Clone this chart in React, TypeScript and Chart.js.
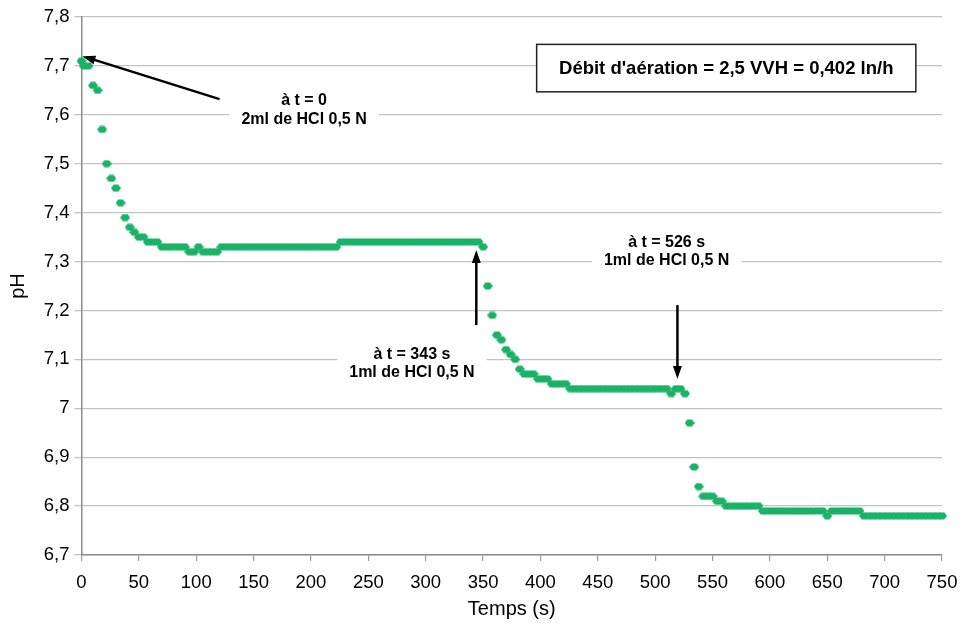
import React, { useEffect, useRef } from 'react';
import { Chart, registerables } from 'chart.js';

Chart.register(...registerables);

// Time (s) of each pH reading
const timeSeconds = [
  0,
  2, 6, 10, 14, 18, 22, 26, 30, 34, 38, 42, 46, 50, 54, 58, 62, 66, 70, 74, 78,
  82, 86, 90, 94, 98, 102, 106, 110, 114, 118, 122, 126, 130, 134, 138, 142, 146, 150, 154, 158,
  162, 166, 170, 174, 178, 182, 186, 190, 194, 198, 202, 206, 210, 214, 218, 222, 226, 230, 234, 238,
  242, 246, 250, 254, 258, 262, 266, 270, 274, 278, 282, 286, 290, 294, 298, 302, 306, 310, 314, 318,
  322, 326, 330, 334, 338, 342, 346, 350, 354, 358, 362, 366, 370, 374, 378, 382, 386, 390, 394, 398,
  402, 406, 410, 414, 418, 422, 426, 430, 434, 438, 442, 446, 450, 454, 458, 462, 466, 470, 474, 478,
  482, 486, 490, 494, 498, 502, 506, 510, 514, 518, 522, 526, 530, 534, 538, 542, 546, 550, 554, 558,
  562, 566, 570, 574, 578, 582, 586, 590, 594, 598, 602, 606, 610, 614, 618, 622, 626, 630, 634, 638,
  642, 646, 650, 654, 658, 662, 666, 670, 674, 678, 682, 686, 690, 694, 698, 702, 706, 710, 714, 718,
  722, 726, 730, 734, 738, 742, 746, 750,
];

// Measured pH
const phValues = [
  7.71,
  7.70, 7.70, 7.66, 7.65, 7.57, 7.50, 7.47, 7.45, 7.42, 7.39, 7.37, 7.36, 7.35, 7.35, 7.34, 7.34, 7.34, 7.33, 7.33, 7.33,
  7.33, 7.33, 7.33, 7.32, 7.32, 7.33, 7.32, 7.32, 7.32, 7.32, 7.33, 7.33, 7.33, 7.33, 7.33, 7.33, 7.33, 7.33, 7.33, 7.33,
  7.33, 7.33, 7.33, 7.33, 7.33, 7.33, 7.33, 7.33, 7.33, 7.33, 7.33, 7.33, 7.33, 7.33, 7.33, 7.33, 7.34, 7.34, 7.34, 7.34,
  7.34, 7.34, 7.34, 7.34, 7.34, 7.34, 7.34, 7.34, 7.34, 7.34, 7.34, 7.34, 7.34, 7.34, 7.34, 7.34, 7.34, 7.34, 7.34, 7.34,
  7.34, 7.34, 7.34, 7.34, 7.34, 7.34, 7.34, 7.33, 7.25, 7.19, 7.15, 7.14, 7.12, 7.11, 7.10, 7.08, 7.07, 7.07, 7.07, 7.06,
  7.06, 7.06, 7.05, 7.05, 7.05, 7.05, 7.04, 7.04, 7.04, 7.04, 7.04, 7.04, 7.04, 7.04, 7.04, 7.04, 7.04, 7.04, 7.04, 7.04,
  7.04, 7.04, 7.04, 7.04, 7.04, 7.04, 7.04, 7.04, 7.03, 7.04, 7.04, 7.03, 6.97, 6.88, 6.84, 6.82, 6.82, 6.82, 6.81, 6.81,
  6.80, 6.80, 6.80, 6.80, 6.80, 6.80, 6.80, 6.80, 6.79, 6.79, 6.79, 6.79, 6.79, 6.79, 6.79, 6.79, 6.79, 6.79, 6.79, 6.79,
  6.79, 6.79, 6.78, 6.79, 6.79, 6.79, 6.79, 6.79, 6.79, 6.79, 6.78, 6.78, 6.78, 6.78, 6.78, 6.78, 6.78, 6.78, 6.78, 6.78,
  6.78, 6.78, 6.78, 6.78, 6.78, 6.78, 6.78, 6.78,
];

// Axis ranges
const X_MIN = 0;
const X_MAX = 750;
const X_STEP = 50;
const Y_MIN = 6.7;
const Y_MAX = 7.8;
const Y_STEP = 0.1;

const X_TITLE = 'Temps (s)';
const Y_TITLE = 'pH';

// Annotation texts (anchored in data coordinates)
const annotationLabels = [
  { lines: ['à t = 0', '2ml de HCl 0,5 N'], t: 194, ph: [7.629, 7.591] },
  { lines: ['à t = 343 s', '1ml de HCl 0,5 N'], t: 288, ph: [7.11, 7.073] },
  { lines: ['à t = 526 s', '1ml de HCl 0,5 N'], t: 510, ph: [7.339, 7.302] },
];

const annotationArrows = [
  { from: [120.3, 7.632], to: [0.8, 7.72] },
  { from: [344.1, 7.17], to: [344.1, 7.3235] },
  { from: [519.4, 7.211], to: [519.4, 7.06] },
];

const infoBox = {
  text: "Débit d'aération = 2,5 VVH = 0,402 ln/h",
  left: 396.7,
  right: 727.2,
  top: 7.744,
  bottom: 7.647,
};

const GREEN = '#19b368';
const FONT_FAMILY = '"Liberation Sans", Arial, Helvetica, sans-serif';

function makeMarker(): HTMLCanvasElement {
  const c = document.createElement('canvas');
  c.width = 10;
  c.height = 8;
  const m = c.getContext('2d')!;
  m.fillStyle = GREEN;
  m.beginPath();
  m.moveTo(0, 4);
  m.lineTo(2.6, 0.6);
  m.lineTo(7.4, 0.6);
  m.lineTo(10, 4);
  m.lineTo(7.4, 7.4);
  m.lineTo(2.6, 7.4);
  m.closePath();
  m.fill();
  return c;
}

function drawArrow(ctx: CanvasRenderingContext2D, x1: number, y1: number, x2: number, y2: number) {
  const ang = Math.atan2(y2 - y1, x2 - x1);
  const headLen = 13;
  const headHalf = 4.5;
  const bx = x2 - headLen * Math.cos(ang);
  const by = y2 - headLen * Math.sin(ang);
  ctx.strokeStyle = '#000';
  ctx.fillStyle = '#000';
  ctx.lineWidth = 2.5;
  ctx.beginPath();
  ctx.moveTo(x1, y1);
  ctx.lineTo(bx + 2 * Math.cos(ang), by + 2 * Math.sin(ang));
  ctx.stroke();
  ctx.beginPath();
  ctx.moveTo(x2, y2);
  ctx.lineTo(bx - headHalf * Math.sin(ang), by + headHalf * Math.cos(ang));
  ctx.lineTo(bx + headHalf * Math.sin(ang), by - headHalf * Math.cos(ang));
  ctx.closePath();
  ctx.fill();
}

const annotationPlugin = {
  id: 'phAnnotations',
  beforeDatasetsDraw(chart: any) {
    const { ctx, scales } = chart;
    const xs = scales.x;
    const ys = scales.y;
    ctx.save();
    ctx.font = `bold 16px ${FONT_FAMILY}`;
    ctx.textAlign = 'center';
    ctx.textBaseline = 'middle';
    annotationLabels.forEach((a) => {
      const cx = xs.getPixelForValue(a.t);
      const yTop = ys.getPixelForValue(a.ph[0]);
      const yBot = ys.getPixelForValue(a.ph[1]);
      const w = Math.max(...a.lines.map((l) => ctx.measureText(l).width));
      ctx.fillStyle = '#fff';
      ctx.fillRect(cx - w / 2 - 12, yTop - 11, w + 24, yBot - yTop + 22);
      ctx.fillStyle = '#000';
      a.lines.forEach((l, i) => ctx.fillText(l, cx, i === 0 ? yTop : yBot));
    });
    // info box
    const l = xs.getPixelForValue(infoBox.left);
    const r = xs.getPixelForValue(infoBox.right);
    const t = ys.getPixelForValue(infoBox.top);
    const b = ys.getPixelForValue(infoBox.bottom);
    ctx.fillStyle = '#fff';
    ctx.fillRect(l, t, r - l, b - t);
    ctx.strokeStyle = '#222';
    ctx.lineWidth = 1.5;
    ctx.strokeRect(l, t, r - l, b - t);
    ctx.fillStyle = '#000';
    ctx.font = `bold 18.5px ${FONT_FAMILY}`;
    ctx.fillText(infoBox.text, (l + r) / 2, (t + b) / 2 + 1);
    ctx.restore();
  },
  afterDatasetsDraw(chart: any) {
    const { ctx, scales } = chart;
    const xs = scales.x;
    const ys = scales.y;
    ctx.save();
    annotationArrows.forEach((a) => {
      drawArrow(
        ctx,
        xs.getPixelForValue(a.from[0]),
        ys.getPixelForValue(a.from[1]),
        xs.getPixelForValue(a.to[0]),
        ys.getPixelForValue(a.to[1]),
      );
    });
    ctx.restore();
  },
};

export default function App() {
  const canvasRef = useRef<HTMLCanvasElement | null>(null);

  useEffect(() => {
    const canvas = canvasRef.current;
    if (!canvas) return;
    const marker = makeMarker();
    const chart = new Chart(canvas, {
      type: 'scatter',
      data: {
        datasets: [
          {
            label: 'pH',
            data: timeSeconds.map((t, i) => ({ x: t, y: phValues[i] })),
            pointStyle: marker as any,
            backgroundColor: GREEN,
            borderColor: GREEN,
            showLine: false,
            clip: false as any,
          },
        ],
      },
      options: {
        responsive: false,
        animation: false,
        devicePixelRatio: 1,
        layout: { padding: { top: 17, right: 22, left: 0, bottom: 0 } },
        plugins: {
          legend: { display: false },
          tooltip: { enabled: false },
        },
        scales: {
          x: {
            type: 'linear',
            min: X_MIN,
            max: X_MAX,
            ticks: {
              stepSize: X_STEP,
              color: '#000',
              padding: 11,
              font: { family: FONT_FAMILY, size: 18.5 },
              maxRotation: 0,
            },
            grid: { drawOnChartArea: false, drawTicks: true, tickLength: 6, color: '#9a9a9a', lineWidth: 1.2 },
            border: { color: '#8c8c8c', width: 1.5 },
            title: {
              display: true,
              text: X_TITLE,
              color: '#000',
              font: { family: FONT_FAMILY, size: 20 },
              padding: { top: 0, bottom: 11 },
            },
            afterFit: (s: any) => {
              s.height = 77;
              s.paddingRight = 0;
              s.paddingLeft = 0;
            },
          },
          y: {
            type: 'linear',
            min: Y_MIN,
            max: Y_MAX,
            ticks: {
              stepSize: Y_STEP,
              color: '#000',
              padding: 5,
              font: { family: FONT_FAMILY, size: 18.5 },
              callback: (v: any) => String(Math.round(Number(v) * 10) / 10).replace('.', ','),
            },
            grid: { color: '#c2c2c2', lineWidth: 1.3, tickLength: 7 },
            border: { color: '#8c8c8c', width: 1.5 },
            title: {
              display: true,
              text: Y_TITLE,
              color: '#000',
              font: { family: FONT_FAMILY, size: 20 },
              padding: { top: 6, bottom: 0 },
            },
            afterFit: (s: any) => {
              s.width = 81.5;
              s.paddingTop = 0;
              s.paddingBottom = 0;
            },
          },
        },
      },
      plugins: [annotationPlugin],
    });
    return () => chart.destroy();
  }, []);

  return (
    <div style={{ position: 'fixed', left: 0, top: 0, width: 964, height: 632, background: '#fff' }}>
      <canvas ref={canvasRef} width={964} height={632} style={{ display: 'block', width: 964, height: 632 }} />
    </div>
  );
}
